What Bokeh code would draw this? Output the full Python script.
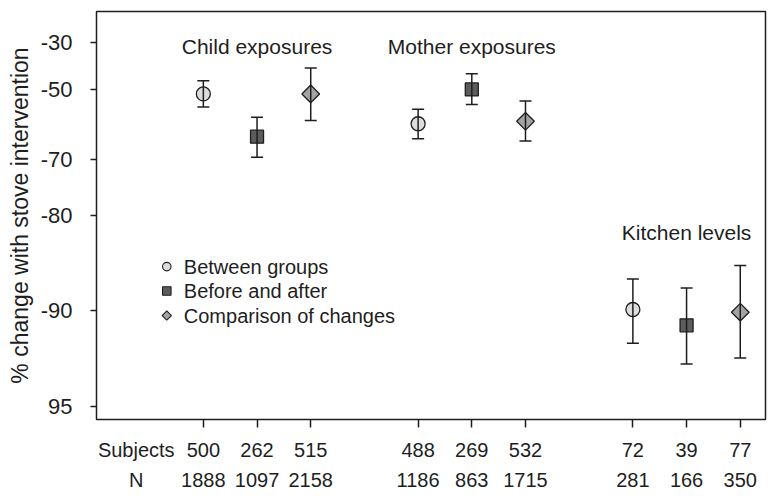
import numpy as np
from bokeh.plotting import figure
from bokeh.models import (ColumnDataSource, Whisker, TeeHead, FixedTicker,
                          Range1d, Label, LinearAxis, LinearScale)
from bokeh.core.properties import value
from bokeh.embed import file_html
from bokeh.resources import INLINE

# ---- data -------------------------------------------------------------
groups = ["Child exposures", "Mother exposures", "Kitchen levels"]
methods = ["Between groups", "Before and after", "Comparison of changes"]
x_pos = [1, 2, 3, 5, 6, 7, 9, 10, 11]
group_of = [0, 0, 0, 1, 1, 1, 2, 2, 2]
method_of = [0, 1, 2, 0, 1, 2, 0, 1, 2]
est = [-51.7, -64.6, -51.7, -61.1, -50.1, -60.4, -89.9, -91.0, -90.1]
upper = [-46.9, -59.2, -41.7, -56.8, -44.1, -54.1, -87.4, -88.2, -86.1]
lower = [-56.1, -69.5, -60.2, -65.1, -55.3, -65.7, -92.1, -93.2, -92.9]
subjects = [500, 262, 515, 488, 269, 532, 72, 39, 77]
n_obs = [1888, 1097, 2158, 1186, 863, 1715, 281, 166, 350]
row_names = ["Subjects", "N"]
y_ticks = [-30, -50, -70, -80, -90, -95]
y_tick_labels = ["-30", "-50", "-70", "-80", "-90", "95"]

# ---- styles / layout --------------------------------------------------
FONT = "Liberation Sans"
INK = "#1e1e1e"
m_marker = ["circle", "square", "square"]
m_angle = [0.0, 0.0, np.pi / 4]
m_size = [14, 13, 12.5]
m_leg_size = [8.5, 8.5, 6.6]
m_fill = ["#dcdcdc", "#5c5c5c", "#a3a3a3"]
W, H = 770, 493
BL, BR, BT, BB = 96, 5, 11, 70
FW, FH = W - BL - BR, H - BT - BB
row_label_x = -0.25
legend_x, legend_y, legend_gap, legend_text_dx = 70.3, 154.4, 24.7, 17.0


def ratio(p):
    return 1.0 + np.asarray(p, dtype=float) / 100.0


p = figure(width=W, height=H, output_backend="svg", toolbar_location=None,
           y_axis_type="log", x_axis_location=None,
           x_range=Range1d(-0.99, 11.47), y_range=Range1d(0.04544, 0.8786),
           min_border_left=BL, min_border_right=BR, min_border_top=BT,
           min_border_bottom=BB)
p.extra_x_ranges = {"px": Range1d(0, FW)}
p.extra_y_ranges = {"px": Range1d(0, FH)}
p.extra_x_scales = {"px": LinearScale()}
p.extra_y_scales = {"px": LinearScale()}
p.xgrid.visible = False
p.ygrid.visible = False
p.outline_line_color = INK
p.outline_line_width = 1.5
p.outline_line_alpha = 1.0
p.background_fill_color = "white"
p.border_fill_color = "white"

for m in range(3):
    idx = [i for i in range(len(x_pos)) if method_of[i] == m]
    src = ColumnDataSource(dict(
        x=[x_pos[i] for i in idx],
        y=ratio([est[i] for i in idx]),
        up=ratio([upper[i] for i in idx]),
        lo=ratio([lower[i] for i in idx]),
    ))
    p.scatter("x", "y", source=src, marker=m_marker[m], angle=m_angle[m],
              size=m_size[m], fill_color=m_fill[m], line_color=INK,
              line_width=1.3)
    w = Whisker(base="x", upper="up", lower="lo", source=src,
                dimension="height", line_color=INK, line_width=1.5,
                upper_head=TeeHead(size=12, line_color=INK, line_width=1.5),
                lower_head=TeeHead(size=12, line_color=INK, line_width=1.5),
                level="annotation")
    p.add_layout(w)

# manual legend (rotated square key), positioned in frame pixels
leg_src = ColumnDataSource(dict(
    x=[legend_x] * 3,
    y=[legend_y - k * legend_gap for k in range(3)],
    tx=[legend_x + legend_text_dx] * 3,
    label=methods,
    marker=m_marker,
    angle=m_angle,
    size=m_leg_size,
    fill=m_fill,
))
p.scatter("x", "y", source=leg_src, marker="marker", angle="angle",
          size="size", fill_color="fill", line_color=INK, line_width=1.1,
          x_range_name="px", y_range_name="px")
p.text("tx", "y", text="label", source=leg_src, x_range_name="px",
       y_range_name="px", text_font=value(FONT), text_font_size="20px",
       text_color=INK, text_baseline="middle", text_align="left")

# y axis
ya = p.yaxis[0]
ya.ticker = FixedTicker(ticks=list(ratio(y_ticks)))
ya.major_label_overrides = {float(r): lab for r, lab in zip(ratio(y_ticks), y_tick_labels)}
ya.minor_tick_line_color = None
ya.major_tick_in = 0
ya.major_tick_out = 6
ya.major_tick_line_color = INK
ya.major_tick_line_width = 1.3
ya.axis_line_color = None
ya.major_label_text_font = FONT
ya.major_label_text_font_size = "22px"
ya.major_label_text_color = INK
ya.major_label_standoff = 18
ya.axis_label = "% change with stove intervention"
ya.axis_label_text_font = FONT
ya.axis_label_text_font_size = "23px"
ya.axis_label_text_font_style = "normal"
ya.axis_label_text_color = INK
ya.axis_label_standoff = 5

# bottom rows: Subjects / N, as two stacked axes
row_vals = [subjects, n_obs]
row_standoff = [11, 5]
for r, (name, vals) in enumerate(zip(row_names, row_vals)):
    ticks = [row_label_x] + list(x_pos)
    labels = {float(row_label_x): name}
    labels.update({float(xv): str(v) for xv, v in zip(x_pos, vals)})
    ax = LinearAxis(
        ticker=FixedTicker(ticks=ticks, minor_ticks=list(x_pos) if r == 0 else []),
        major_label_overrides=labels,
        axis_line_color=None,
        major_tick_line_color=None,
        major_tick_in=0, major_tick_out=0,
        minor_tick_in=0, minor_tick_out=8 if r == 0 else 0,
        minor_tick_line_color=INK if r == 0 else None,
        minor_tick_line_width=1.5,
        major_label_text_font=FONT,
        major_label_text_font_size="20px",
        major_label_text_color=INK,
        major_label_standoff=row_standoff[r],
    )
    p.add_layout(ax, "below")

# group titles
title_offsets = [373.0, 373.0, 187.0]
for g, name in enumerate(groups):
    gx = np.mean([x_pos[i] for i in range(len(x_pos)) if group_of[i] == g])
    p.add_layout(Label(x=gx, y=title_offsets[g], x_units="data",
                       y_units="screen", text=name, text_align="center",
                       text_baseline="alphabetic", text_font=FONT,
                       text_font_size="21px", text_color=INK))

open("out.html", "w").write(file_html(p, INLINE))
